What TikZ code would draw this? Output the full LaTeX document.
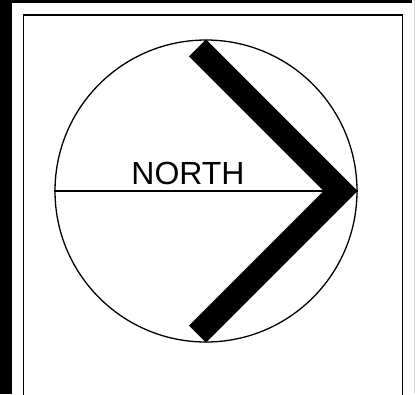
\documentclass[tikz,border=0pt]{standalone}
\usepackage{fontspec}
\setmainfont{Liberation Sans}
\usetikzlibrary{calc}
\tikzset{thinline/.style={line width=1.3pt}}

\begin{document}
\begin{tikzpicture}[x=1pt,y=-1pt]
\clip (0,0) rectangle (415,394);
% edges of the sheet
\fill (0,0) rectangle (12,394);
\fill (0,0) rectangle (412,2.5);
\draw[gray!30] (414,0) -- (414,394);
% frame
\draw[thinline] (23.5,420) -- (23.5,15) -- (402.5,15) -- (402.5,420);

% dial
\node[circle,draw,thinline,minimum size=302pt,inner sep=0pt] (dial) at (206,191) {};
\draw[thinline] (dial.west) -- (dial.east);
\node[font=\fontsize{32}{36}\selectfont,anchor=base] (label) at (188,184.5) {NORTH};

% chevron
\fill (dial.north) -- (dial.east) -- (dial.south)
  -- ($(dial.south)+(-17,-17)$) -- ($(dial.east)+(-34,0)$)
  -- ($(dial.north)+(-17,17)$) -- cycle;
\end{tikzpicture}
\end{document}
